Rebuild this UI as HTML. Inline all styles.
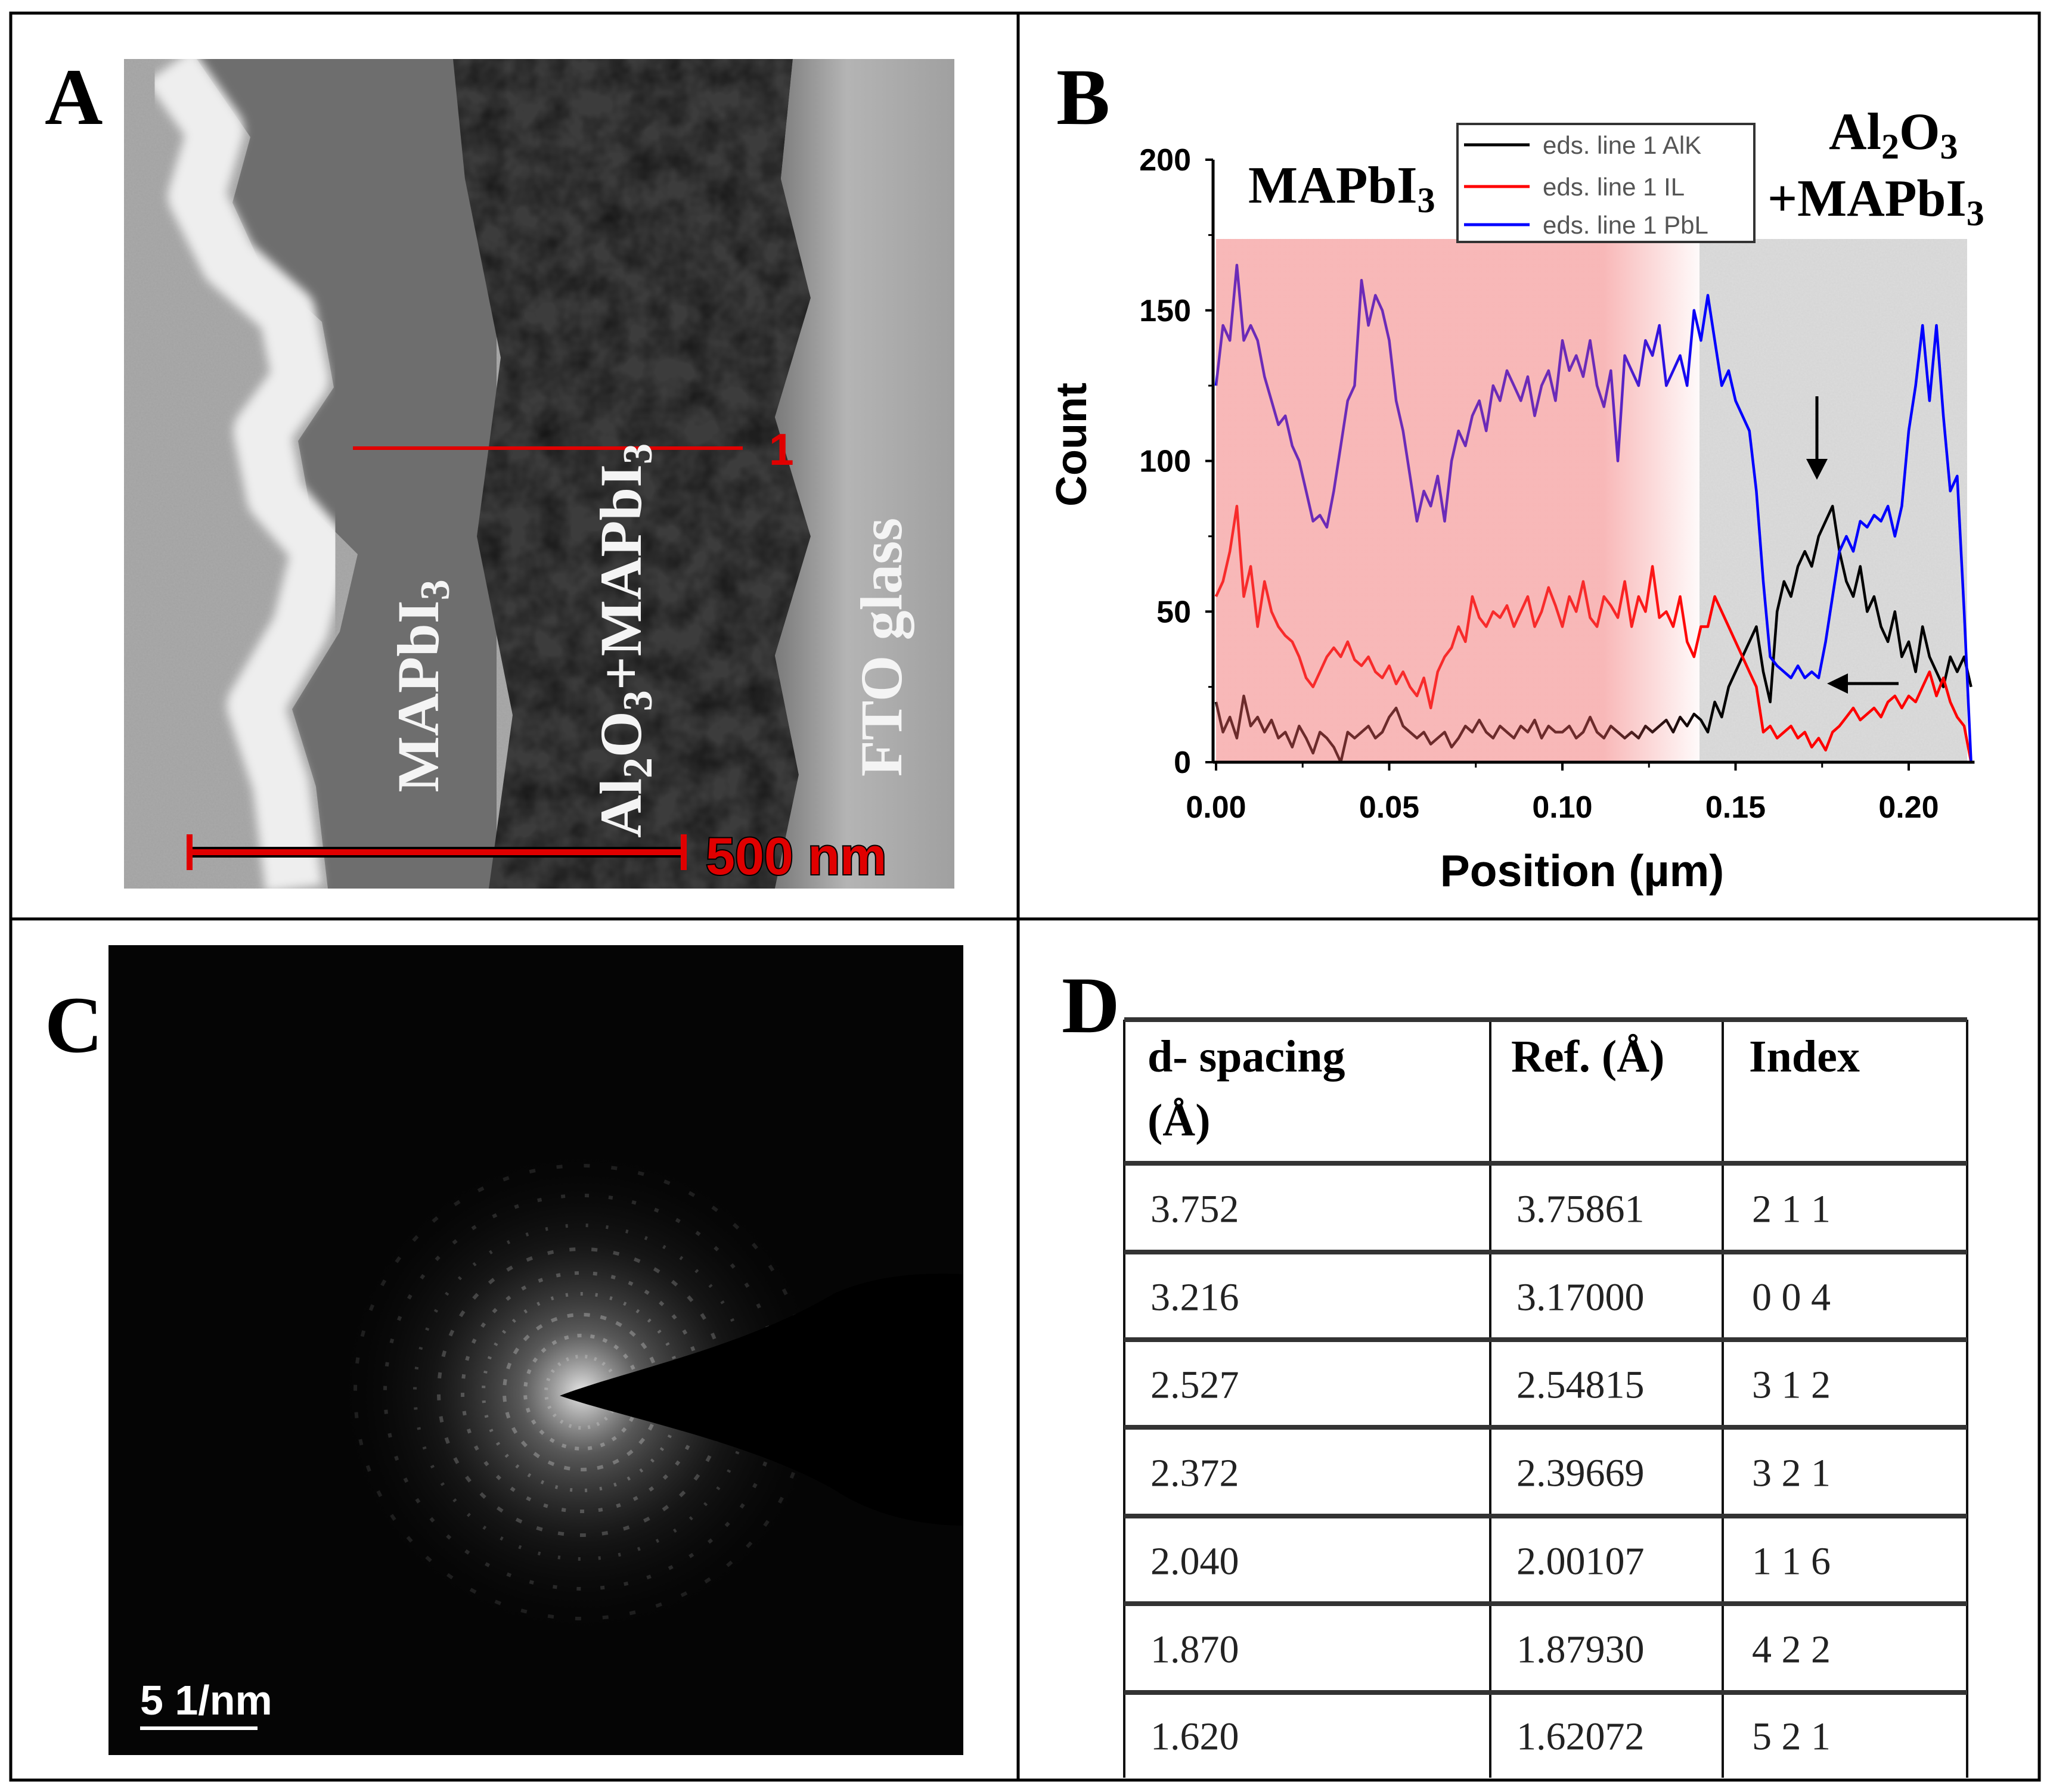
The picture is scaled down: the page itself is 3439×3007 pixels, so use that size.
<!DOCTYPE html>
<html><head><meta charset="utf-8"><style>
html,body{margin:0;padding:0;background:#fff;}
svg{display:block;}
.serif{font-family:"Liberation Serif",serif;}
.sans{font-family:"Liberation Sans",sans-serif;}
</style></head><body>
<svg id="root" width="3439" height="3007" viewBox="0 0 3439 3007" xmlns="http://www.w3.org/2000/svg">
<defs>
<filter id="noise" x="0" y="0" width="100%" height="100%"><feTurbulence type="fractalNoise" baseFrequency="0.35" numOctaves="2" seed="3"/><feColorMatrix type="matrix" values="0 0 0 0 0.5  0 0 0 0 0.5  0 0 0 0 0.5  0 0 0 0.9 0"/></filter>
<filter id="noise2" x="0" y="0" width="100%" height="100%"><feTurbulence type="fractalNoise" baseFrequency="0.02" numOctaves="3" seed="7"/><feColorMatrix type="matrix" values="0 0 0 0 0  0 0 0 0 0  0 0 0 0 0  0 0 0 1.6 -0.5"/></filter>
<filter id="blur8"><feGaussianBlur stdDeviation="8"/></filter>
<linearGradient id="pinkfade" x1="0" x2="1" y1="0" y2="0">
<stop offset="0" stop-color="#f06060" stop-opacity="0.45"/>
<stop offset="0.8" stop-color="#f06060" stop-opacity="0.45"/>
<stop offset="1" stop-color="#f06060" stop-opacity="0.03"/>
</linearGradient>
<linearGradient id="fto" x1="0" x2="1"><stop offset="0" stop-color="#7a7a7a"/><stop offset="0.4" stop-color="#b4b4b4"/><stop offset="1" stop-color="#a0a0a0"/></linearGradient>
<radialGradient id="glow" cx="0.5" cy="0.5" r="0.5"><stop offset="0" stop-color="#fff" stop-opacity="0.9"/><stop offset="0.25" stop-color="#aaa" stop-opacity="0.5"/><stop offset="0.6" stop-color="#444" stop-opacity="0.25"/><stop offset="1" stop-color="#000" stop-opacity="0"/></radialGradient>
<clipPath id="clipA"><rect x="208" y="99" width="1393" height="1392"/></clipPath>
<clipPath id="clipDark"><path d="M760,99 L1330,99 L1310,300 L1360,500 L1300,700 L1360,900 L1300,1100 L1340,1300 L1300,1491 L820,1491 L860,1200 L800,900 L840,600 L780,300 Z"/></clipPath>
<clipPath id="clipC"><rect x="182" y="1586" width="1434" height="1359"/></clipPath>
</defs>

<rect x="18" y="22" width="3403" height="2965" fill="none" stroke="#000" stroke-width="5"/>
<line x1="1708" y1="22" x2="1708" y2="2987" stroke="#000" stroke-width="5"/>
<line x1="18" y1="1542" x2="3421" y2="1542" stroke="#000" stroke-width="5"/>

<g>
<text x="75" y="208" class="serif" font-size="135" font-weight="bold">A</text>
<g clip-path="url(#clipA)">
<rect x="208" y="99" width="1393" height="1392" fill="#a2a2a2"/>
<rect x="208" y="99" width="1393" height="1392" filter="url(#noise)" opacity="0.35"/>
<path d="M330,99 L420,230 L390,340 L440,450 L540,540 L560,650 L500,740 L520,850 L600,930 L570,1060 L490,1190 L530,1320 L550,1491 L833,1491 L833,99 Z" fill="#6e6e6e"/>
<polyline points="285,110 362,219 329,329 384,439 482,526 504,636 439,724 461,833 537,921 504,1053 428,1184 471,1316 493,1491" fill="none" stroke="#eeeeee" stroke-width="95" stroke-linejoin="round" filter="url(#blur8)"/>
<path d="M760,99 L1330,99 L1310,300 L1360,500 L1300,700 L1360,900 L1300,1100 L1340,1300 L1300,1491 L820,1491 L860,1200 L800,900 L840,600 L780,300 Z" fill="#3c3c3c"/>
<g clip-path="url(#clipDark)"><rect x="760" y="99" width="600" height="1392" filter="url(#noise2)" opacity="0.6"/></g>
<path d="M1330,99 L1601,99 L1601,1491 L1300,1491 L1340,1300 L1300,1100 L1360,900 L1300,700 L1360,500 L1310,300 Z" fill="url(#fto)"/>
</g>
<line x1="592" y1="752" x2="1246" y2="752" stroke="#e00000" stroke-width="6"/>
<text x="1290" y="780" class="sans" font-size="75" font-weight="bold" fill="#e00000">1</text>
<text transform="translate(735,1151) rotate(-90)" text-anchor="middle" class="serif" font-size="100" font-weight="bold" fill="#f4f4f4">MAPbI<tspan font-size="70" dy="18">3</tspan></text>
<text transform="translate(1075,1075) rotate(-90)" text-anchor="middle" class="serif" font-size="100" font-weight="bold" fill="#f4f4f4">Al<tspan font-size="70" dy="18">2</tspan><tspan dy="-18">O</tspan><tspan font-size="70" dy="18">3</tspan><tspan dy="-18">+MAPbI</tspan><tspan font-size="70" dy="18">3</tspan></text>
<text transform="translate(1512,1086) rotate(-90)" text-anchor="middle" class="serif" font-size="100" font-weight="bold" fill="#f4f4f4">FTO glass</text>
<g>
<line x1="314" y1="1430" x2="1151" y2="1430" stroke="#000" stroke-width="18"/>
<line x1="314" y1="1430" x2="1151" y2="1430" stroke="#e00000" stroke-width="10"/>
<line x1="318" y1="1400" x2="318" y2="1460" stroke="#e00000" stroke-width="10"/>
<line x1="1147" y1="1400" x2="1147" y2="1460" stroke="#e00000" stroke-width="10"/>
<text x="1184" y="1467" class="sans" font-size="88" font-weight="bold" fill="#e00000" stroke="#000" stroke-width="4" paint-order="stroke">500 nm</text>
</g>
</g>

<g id="panelB">
<text x="1772" y="208" class="serif" font-size="135" font-weight="bold">B</text>
<rect x="2851" y="401" width="449" height="878" fill="#dcdcdc"/>
<rect x="2851" y="401" width="449" height="878" filter="url(#noise)" opacity="0.25"/>
<g id="series"></g>
<rect x="2040" y="401" width="811" height="878" fill="url(#pinkfade)"/>
<g id="axes"></g>
<text x="2094" y="340" class="serif" font-size="88" font-weight="bold">MAPbI<tspan font-size="60" dy="16">3</tspan></text>
<text x="3068" y="250" class="serif" font-size="88" font-weight="bold">Al<tspan font-size="60" dy="16">2</tspan><tspan dy="-16">O</tspan><tspan font-size="60" dy="16">3</tspan></text>
<text x="2965" y="362" class="serif" font-size="88" font-weight="bold">+MAPbI<tspan font-size="60" dy="16">3</tspan></text>
<g>
<rect x="2445" y="208" width="498" height="198" fill="#fff" stroke="#333" stroke-width="4"/>
<line x1="2456" y1="243" x2="2566" y2="243" stroke="#000" stroke-width="5"/>
<text x="2588" y="258" class="sans" font-size="42" fill="#555">eds. line 1 AlK</text>
<line x1="2456" y1="313" x2="2566" y2="313" stroke="#ff0000" stroke-width="5"/>
<text x="2588" y="328" class="sans" font-size="42" fill="#555">eds. line 1 IL</text>
<line x1="2456" y1="377" x2="2566" y2="377" stroke="#0000ff" stroke-width="5"/>
<text x="2588" y="392" class="sans" font-size="42" fill="#555">eds. line 1 PbL</text>
</g>
<g><line x1="3048" y1="665" x2="3048" y2="780" stroke="#000" stroke-width="5"/><polygon points="3030,770 3066,770 3048,805" fill="#000"/></g>
<g><line x1="3185" y1="1147" x2="3090" y2="1147" stroke="#000" stroke-width="5"/><polygon points="3100,1130 3100,1164 3065,1147" fill="#000"/></g>
<text transform="translate(1822,746) rotate(-90)" text-anchor="middle" class="sans" font-size="72" font-weight="bold">Count</text>
<text x="2654" y="1487" text-anchor="middle" class="sans" font-size="75" font-weight="bold">Position (µm)</text>
</g>

<g>
<text x="75" y="1765" class="serif" font-size="135" font-weight="bold">C</text>
<g clip-path="url(#clipC)">
<rect x="182" y="1586" width="1434" height="1359" fill="#050505"/>
<circle cx="976" cy="2336" r="420" fill="url(#glow)"/>
<g id="rings" fill="none" stroke="#bbb"></g>
<path d="M939,2342 C1050,2300 1250,2260 1400,2170 C1470,2140 1540,2135 1616,2138 L1616,2560 C1540,2560 1460,2540 1400,2500 C1260,2420 1050,2380 939,2342 Z" fill="#000"/>
</g>
<text x="235" y="2877" class="sans" font-size="70" font-weight="bold" fill="#fff">5 1/nm</text>
<line x1="235" y1="2900" x2="432" y2="2900" stroke="#fff" stroke-width="6"/>
</g>

<g>
<text x="1781" y="1732" class="serif" font-size="135" font-weight="bold">D</text>
<g id="table"></g>
</g>
</svg>

<script>
var xStep = 0.002;
var xTicks = [0, 0.05, 0.10, 0.15, 0.20];
var xTickLabels = ["0.00", "0.05", "0.10", "0.15", "0.20"];
var yTicks = [0, 50, 100, 150, 200];
var yTickLabels = ["0", "50", "100", "150", "200"];
var pblValues = [125,145,140,165,140,145,140,128,120,112,115,105,100,90,80,82,78,90,105,120,125,160,145,155,150,140,120,110,95,80,90,85,95,80,100,110,105,115,120,110,125,120,130,125,120,128,115,125,130,120,140,130,135,128,140,125,118,130,100,135,130,125,140,135,145,125,130,135,125,150,140,155,140,125,130,120,115,110,90,60,35,32,30,28,32,28,30,28,40,55,70,75,70,80,78,82,80,85,75,85,110,125,145,120,145,115,90,95,50,0];
var ilValues = [55,60,70,85,55,65,45,60,50,45,42,40,35,28,25,30,35,38,35,40,34,32,35,30,28,32,26,30,25,22,28,18,30,35,38,45,40,55,48,45,50,48,52,45,50,55,45,50,58,52,45,55,50,60,48,45,55,52,48,60,45,55,50,65,48,50,45,55,40,35,45,45,55,50,45,40,35,30,25,10,12,8,10,12,8,10,5,8,4,10,12,15,18,14,16,18,15,20,22,18,22,20,25,30,22,28,20,15,12,0];
var alkValues = [20,10,15,8,22,12,15,10,14,8,10,5,12,8,3,10,8,5,0,10,8,10,12,8,10,15,18,12,10,8,10,6,8,10,5,8,12,10,14,10,8,12,10,8,12,10,14,8,12,10,10,12,8,10,15,10,8,12,10,8,10,8,12,10,12,14,10,15,12,16,14,10,20,15,25,30,35,40,45,30,20,50,60,55,65,70,65,75,80,85,70,60,55,65,50,55,45,40,50,35,40,30,45,35,30,25,35,30,35,25];

var NS = "http://www.w3.org/2000/svg";
var X0 = 2040, XPX = 1162/0.20;
var Y0 = 1279, YPX = 1011/200;
function xScale(v){ return X0 + v*XPX; }
function yScale(v){ return Y0 - v*YPX; }

var series = document.getElementById('series');
function drawSeries(vals, color, name){
  var pts = [];
  for (var i=0;i<vals.length;i++) pts.push(xScale(i*xStep).toFixed(1)+','+yScale(vals[i]).toFixed(1));
  var pl = document.createElementNS(NS,'polyline');
  pl.setAttribute('points', pts.join(' '));
  pl.setAttribute('fill','none');
  pl.setAttribute('stroke',color);
  pl.setAttribute('stroke-width','4.5');
  pl.setAttribute('stroke-linejoin','round');
  
  
  series.appendChild(pl);
}
drawSeries(alkValues, '#000000', 'series-alk-line');
drawSeries(ilValues, '#ff0000', 'series-il-line');
drawSeries(pblValues, '#0000ff', 'series-pbl-line');

var axes = document.getElementById('axes');
function mk(tag, attrs){ var e=document.createElementNS(NS,tag); for (var k in attrs) e.setAttribute(k, attrs[k]); axes.appendChild(e); return e; }
var yAxis = mk('line',{x1:2035,y1:yScale(200),x2:2035,y2:Y0,stroke:'#000','stroke-width':5});


var xAxis = mk('line',{x1:2035,y1:Y0,x2:xScale(0.219),y2:Y0,stroke:'#000','stroke-width':5});


for (var i=0;i<yTicks.length;i++){
  var y = yScale(yTicks[i]);
  var t = mk('line',{x1:2022,y1:y,x2:2035,y2:y,stroke:'#000','stroke-width':4});
  
  
  var lb = mk('text',{x:1998,y:y+18,'text-anchor':'end','font-size':52,'font-weight':'bold','font-family':'Liberation Sans, sans-serif'});
  lb.textContent = yTickLabels[i];
  
  
  if (i<yTicks.length-1){
    var mt = mk('line',{x1:2027,y1:yScale(yTicks[i]+25),x2:2035,y2:yScale(yTicks[i]+25),stroke:'#000','stroke-width':3});
    
    
  }
}
for (var j=0;j<xTicks.length;j++){
  var x = xScale(xTicks[j]);
  var tx = mk('line',{x1:x,y1:Y0,x2:x,y2:Y0+14,stroke:'#000','stroke-width':4});
  
  
  var lx = mk('text',{x:x,y:1372,'text-anchor':'middle','font-size':52,'font-weight':'bold','font-family':'Liberation Sans, sans-serif'});
  lx.textContent = xTickLabels[j];
  
  
  if (xTicks[j]+0.025 < 0.219){
    var mx = mk('line',{x1:xScale(xTicks[j]+0.025),y1:Y0,x2:xScale(xTicks[j]+0.025),y2:Y0+9,stroke:'#000','stroke-width':3});
    
    
  }
}

var rings = document.getElementById('rings');
var radii = [60,95,130,165,200,240,280,330,380];
for (var r=0;r<radii.length;r++){
  var c = document.createElementNS(NS,'circle');
  c.setAttribute('cx',976); c.setAttribute('cy',2336); c.setAttribute('r',radii[r]);
  c.setAttribute('stroke-width', 6);
  c.setAttribute('stroke-opacity', (0.5 - r*0.045).toFixed(2));
  c.setAttribute('stroke-dasharray', (4+r%3*3)+' '+(12+r*3));
  
  
  rings.appendChild(c);
}

var tbl = document.getElementById('table');
var colX = [1886, 2500, 2890, 3300];
var rowY = [1711, 1952, 2101, 2248, 2395, 2544, 2691, 2840, 2983];
var dSpacing = ["3.752","3.216","2.527","2.372","2.040","1.870","1.620"];
var refVals = ["3.75861","3.17000","2.54815","2.39669","2.00107","1.87930","1.62072"];
var indexVals = ["2 1 1","0 0 4","3 1 2","3 2 1","1 1 6","4 2 2","5 2 1"];
function tt(tag, attrs, txt){ var e=document.createElementNS(NS,tag); for (var k in attrs) e.setAttribute(k, attrs[k]); if (txt!==undefined) e.textContent=txt; tbl.appendChild(e); return e; }
for (var a=0;a<colX.length;a++){
  var vl = tt('line',{x1:colX[a],y1:rowY[0],x2:colX[a],y2:rowY[rowY.length-1],stroke:'#111','stroke-width':4});
  
  
}
for (var b=0;b<rowY.length-1;b++){
  var hl = tt('line',{x1:colX[0],y1:rowY[b],x2:colX[3],y2:rowY[b],stroke:'#333','stroke-width':8});
  
  
}
var hdrs = [["d- spacing",1925,1798],["(Å)",1925,1905],["Ref. (Å)",2535,1798],["Index",2934,1798]];
for (var h=0;h<hdrs.length;h++){
  var ht = tt('text',{x:hdrs[h][1],y:hdrs[h][2],'font-size':76,'font-weight':'bold','font-family':'Liberation Serif, serif'},hdrs[h][0]);
  
  
}
for (var rr=0;rr<dSpacing.length;rr++){
  var by = (rowY[rr+1]+rowY[rr+2])/2 + 24;
  var c1 = tt('text',{x:1930,y:by,'font-size':66,'font-family':'Liberation Serif, serif',fill:'#222'},dSpacing[rr]);
  
  
  var c2 = tt('text',{x:2544,y:by,'font-size':66,'font-family':'Liberation Serif, serif',fill:'#222'},refVals[rr]);
  
  
  var c3 = tt('text',{x:2939,y:by,'font-size':66,'font-family':'Liberation Serif, serif',fill:'#222'},indexVals[rr]);
  
  
}
</script>
</body></html>
